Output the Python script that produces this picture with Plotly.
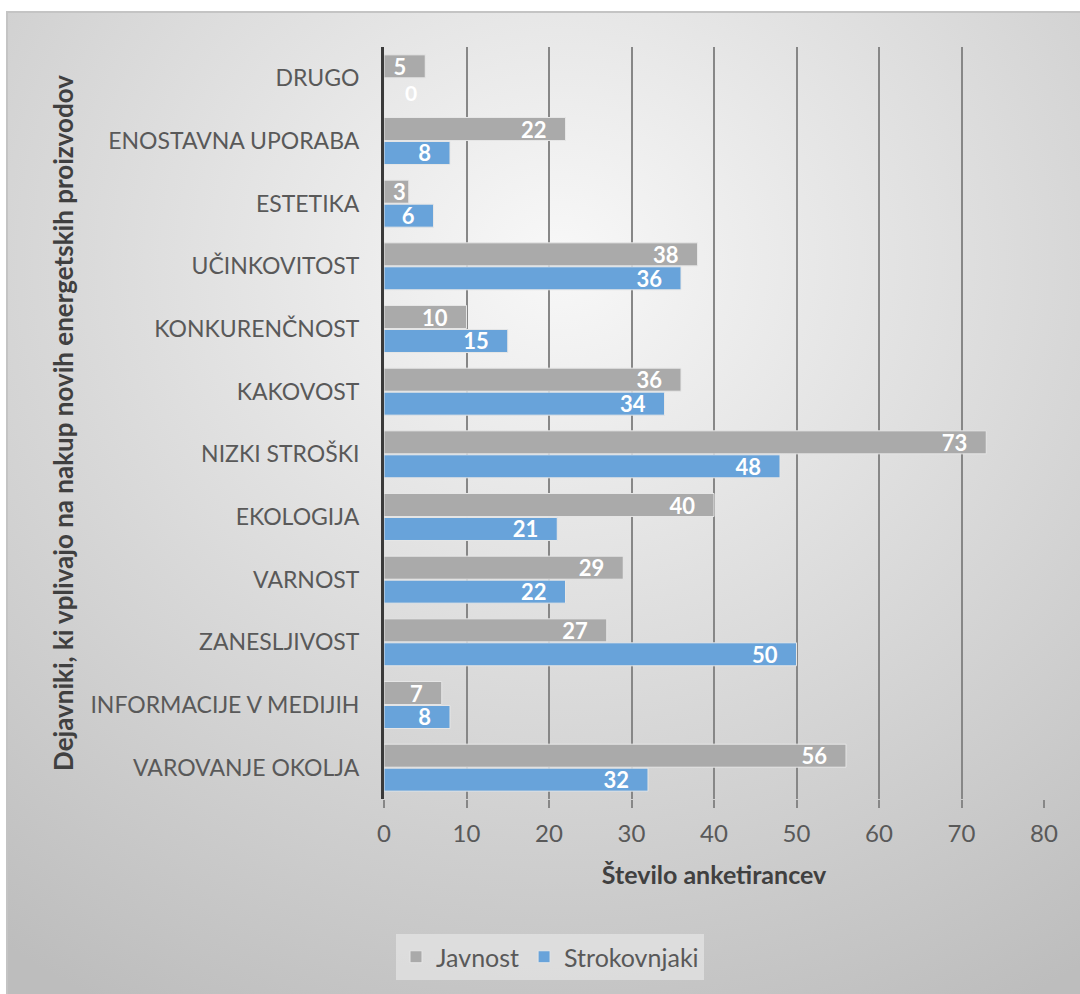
import base64
import plotly.graph_objects as go

categories = ["DRUGO", "ENOSTAVNA UPORABA", "ESTETIKA", "UČINKOVITOST", "KONKURENČNOST",
              "KAKOVOST", "NIZKI STROŠKI", "EKOLOGIJA", "VARNOST", "ZANESLJIVOST",
              "INFORMACIJE V MEDIJIH", "VAROVANJE OKOLJA"]
javnost = [5, 22, 3, 38, 10, 36, 73, 40, 29, 27, 7, 56]
strokovnjaki = [0, 8, 6, 36, 15, 34, 48, 21, 22, 50, 8, 32]
x_ticks = [0, 10, 20, 30, 40, 50, 60, 70, 80]

FONT = "Lato"
W, H = 1080, 994
L, R, T, B = 384, 36, 47, 195
pw, ph = W - L - R, H - T - B
NB = "\u00a0"


def px_x(p):
    return (p - L) / pw


def px_y(p):
    return (H - B - p) / ph


def label(v):
    # inside-end label text with right padding (small bars get none)
    return f"{v}" + (NB * 3 if v >= 5 else "")


svg = ('<svg xmlns="http://www.w3.org/2000/svg" width="1100" height="1000" preserveAspectRatio="none">'
       '<defs><radialGradient id="g" cx="50%" cy="25%" r="85%">'
       '<stop offset="0" stop-color="#f8f8f8"/><stop offset="1" stop-color="#bdbdbd"/>'
       '</radialGradient></defs><rect width="1100" height="1000" fill="url(#g)"/></svg>')
bg_src = "data:image/svg+xml;base64," + base64.b64encode(svg.encode()).decode()

label_font = dict(family=FONT, size=22, color="white", weight="bold")

fig = go.Figure()
fig.add_trace(go.Bar(
    y=categories, x=javnost, orientation="h", name="Javnost",
    marker=dict(color="#aaaaaa", line=dict(color="#e6e6e6", width=1)),
    text=[label(v) for v in javnost], texttemplate="%{text}", textposition="inside",
    insidetextanchor="end", textangle=0, constraintext="none",
    textfont=label_font, cliponaxis=False,
))
fig.add_trace(go.Bar(
    y=categories, x=strokovnjaki, orientation="h", name="Strokovnjaki",
    marker=dict(color="#68a3da", line=dict(color="#e6e6e6", width=1)),
    text=[label(v) for v in strokovnjaki], texttemplate="%{text}", textposition="inside",
    insidetextanchor="end", textangle=0, constraintext="none",
    textfont=label_font, cliponaxis=False,
))

# labels for zero-length bars (not drawn by the bar trace)
annotations = []
for cat, v in zip(categories, strokovnjaki):
    if v == 0:
        annotations.append(dict(x=v, y=cat, xref="x", yref="y", text=str(v), showarrow=False,
                                xanchor="left", xshift=19, yshift=-14,
                                font=dict(family=FONT, size=21, color="white", weight="bold")))

fig.update_layout(
    width=W, height=H,
    margin=dict(l=L, r=R, t=T, b=B, autoexpand=False),
    paper_bgcolor="white", plot_bgcolor="rgba(0,0,0,0)",
    barmode="group", bargap=0.235, bargroupgap=0.04,
    font=dict(family=FONT, color="#595959", size=23),
    showlegend=True,
    legend=dict(orientation="h", x=px_x(550), xanchor="center", y=px_y(934), yanchor="top",
                bgcolor="rgba(235,235,235,0.6)", font=dict(family=FONT, size=25, color="#595959"),
                itemwidth=30, traceorder="normal"),
    annotations=annotations,
    images=[dict(source=bg_src, xref="paper", yref="paper", x=px_x(8), y=px_y(12),
                 sizex=(1110 - 8) / pw, sizey=(1010 - 12) / ph, sizing="stretch",
                 xanchor="left", yanchor="top", layer="below")],
    shapes=[dict(type="rect", xref="paper", yref="paper", x0=px_x(7), x1=px_x(1110),
                 y0=px_y(1010), y1=px_y(12), line=dict(color="#c4c4c4", width=2),
                 fillcolor="rgba(0,0,0,0)", layer="below")],
)
fig.update_xaxes(
    range=[0, 80], tickvals=x_ticks, showgrid=True, gridcolor="#878787", gridwidth=2,
    zeroline=False, showline=False, ticks="outside", ticklen=8, tickcolor="#878787", tickwidth=2,
    ticklabelstandoff=5, tickfont=dict(family=FONT, size=24, color="#595959"),
    title=dict(text="Število anketirancev", font=dict(family=FONT, size=25, color="#404040", weight="bold"),
               standoff=20),
)
fig.update_yaxes(
    autorange="reversed", showgrid=False, zeroline=False,
    showline=True, linecolor="#3a3a3a", linewidth=3, ticks="",
    ticklabelstandoff=17, tickfont=dict(family=FONT, size=23, color="#595959"),
    title=dict(text="Dejavniki, ki vplivajo na nakup novih energetskih proizvodov",
               font=dict(family=FONT, size=26, color="#404040", weight="bold"), standoff=10),
)

fig.write_html("out.html")
